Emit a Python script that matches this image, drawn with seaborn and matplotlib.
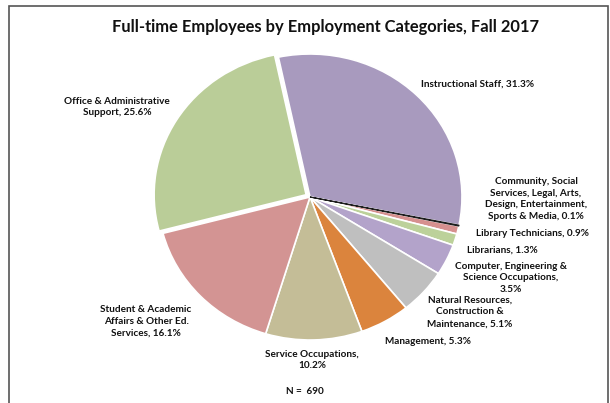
import matplotlib
matplotlib.use('Agg')
import matplotlib.pyplot as plt
import seaborn as sns
from matplotlib.patches import Rectangle

# data (clockwise from the top)
categories = ['Instructional Staff',
              'Community, Social\nServices, Legal, Arts,\nDesign, Entertainment,\nSports & Media',
              'Library Technicians', 'Librarians',
              'Computer, Engineering &\nScience Occupations,\n',
              'Natural Resources,\nConstruction &\nMaintenance',
              'Management', 'Service Occupations,\n',
              'Student & Academic\nAffairs & Other Ed.\nServices',
              'Office & Administrative\nSupport']
shares = [31.3, 0.1, 0.9, 1.3, 3.5, 5.1, 5.3, 10.2, 16.1, 25.6]
colors = ['#A89ABE', '#1E1E1E', '#D6908F', '#BCD19A', '#B3A3CA',
          '#BFBFBF', '#DB843D', '#C4BD97', '#D39493', '#BACD98']
n_total = 690

# label positions in pixels (x centre, y centre of block)
label_pos = [(478, 84), (536, 199), (532, 233), (502, 250), (511, 278),
             (470, 312), (428, 341), (312, 360), (146, 321), (117, 107)]

sns.set_theme(style='white')
plt.rcParams['font.family'] = ['Lato', 'DejaVu Sans']

W, H = 610, 403
fig = plt.figure(figsize=(W / 100, H / 100), dpi=100)

# pie area: centre (310,197), rx 152, ry 143
ax = fig.add_axes([158 / W, 1 - (54 + 286) / H, 304 / W, 286 / H])
explode = [0] * len(shares)
explode[-1] = 0.03
wedges, _ = ax.pie(shares, colors=sns.color_palette(colors), startangle=102,
                   counterclock=False, explode=explode,
                   wedgeprops=dict(edgecolor='white', linewidth=1.2))
wedges[1].set_edgecolor('#1E1E1E')
wedges[1].set_linewidth(0.8)
wedges[1].set_zorder(5)
ax.set_aspect('auto')
ax.set_xlim(-1, 1)
ax.set_ylim(-1, 1)
ax.axis('off')

for cat, val, (px, py) in zip(categories, shares, label_pos):
    txt = cat + ('' if cat.endswith('\n') else ', ') + f'{val}%'
    fig.text(px / W, 1 - py / H, txt, ha='center', va='center',
             fontsize=7.2, fontweight='bold', linespacing=1.4, color='#111111')

fig.text(326 / W, 1 - 27 / H, 'Full-time Employees by Employment Categories, Fall 2017',
         ha='center', va='center', fontsize=11.9, fontweight='bold', color='#111111')
fig.text(305 / W, 1 - 392 / H, f'N =  {n_total}', ha='center', va='center',
         fontsize=7.2, fontweight='bold', color='#111111')

# outer frame
fig.patches.append(Rectangle((8.5 / W, -0.1), 599 / W, 1.1 - 5.5 / H,
                             transform=fig.transFigure, fill=False,
                             edgecolor='#555555', linewidth=1.2))

fig.savefig('out.png', dpi=100)
